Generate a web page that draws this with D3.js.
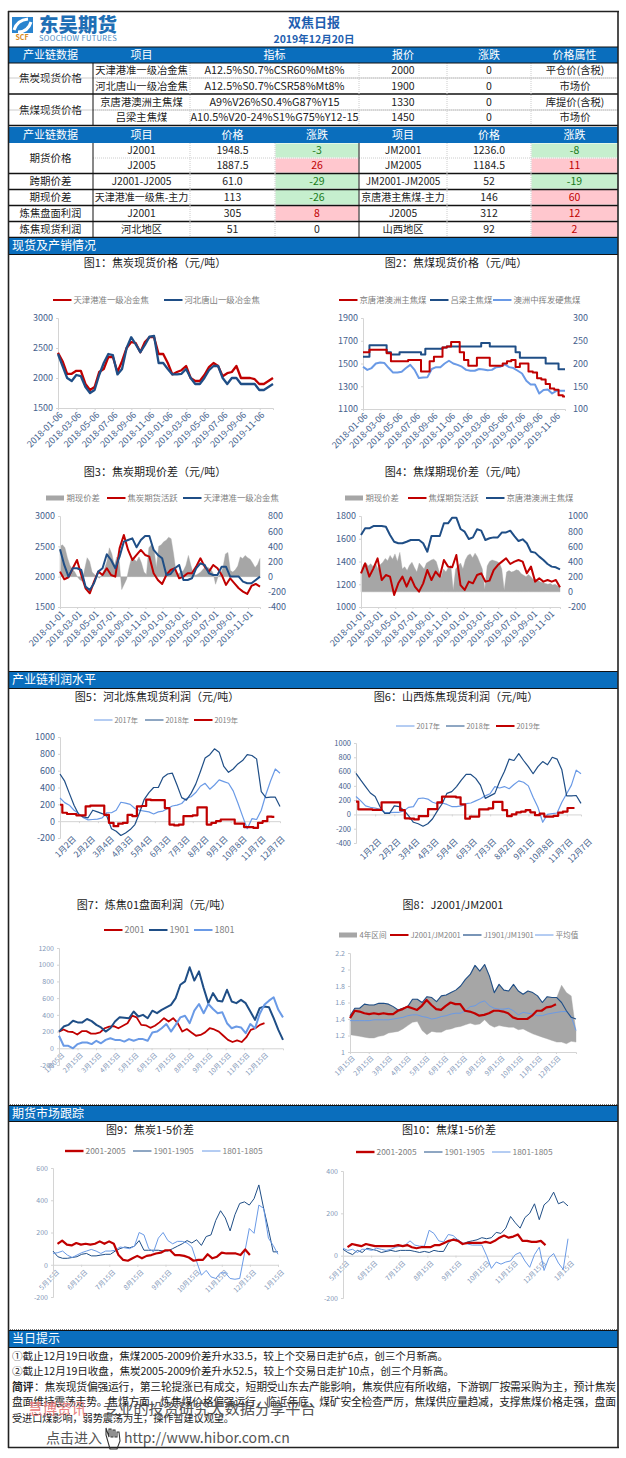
<!DOCTYPE html>
<html><head><meta charset="utf-8">
<script src="https://d3js.org/d3.v7.min.js"></script>
<style>html,body{margin:0;padding:0;background:#fff}svg{display:block}text{font-family:"Noto Sans CJK SC","Noto Sans",sans-serif}</style>
</head><body><div id="c"></div>
<script>
// ---------- table data ----------
const spotHead=["产业链数据","项目","指标","报价","涨跌","价格属性"];
const spotGroups=["焦炭现货价格","焦煤现货价格"];
const spotNames=["天津港准一级冶金焦","河北唐山一级冶金焦","京唐港澳洲主焦煤","吕梁主焦煤"];
const spotSpecs=["A12.5%S0.7%CSR60%Mt8%","A12.5%S0.7%CSR58%Mt8%","A9%V26%S0.4%G87%Y15","A10.5%V20-24%S1%G75%Y12-15"];
const spotPrices=[2000,1900,1330,1450];
const spotChanges=[0,0,0,0];
const spotAttrs=["平仓价(含税)","市场价","库提价(含税)","市场价"];
const futHead=["产业链数据","项目","价格","涨跌","项目","价格","涨跌"];
const futGroups=["期货价格","跨期价差","期现价差","炼焦盘面利润","炼焦现货利润"];
const futNamesL=["J2001","J2005","J2001-J2005","天津港准一级焦-主力","J2001","河北地区"];
const futPricesL=["1948.5","1887.5","61.0","113","305","51"];
const futChangesL=[-3,26,-29,-26,8,0];
const futNamesR=["JM2001","JM2005","JM2001-JM2005","京唐港主焦煤-主力","J2005","山西地区"];
const futPricesR=["1236.0","1184.5","52","146","312","92"];
const futChangesR=[-8,11,-19,60,12,2];
const commentLines=["①截止12月19日收盘，焦煤2005-2009价差升水33.5，较上个交易日走扩6点，创三个月新高。",
"②截止12月19日收盘，焦炭2005-2009价差升水52.5，较上个交易日走扩10点，创三个月新高。",
"：焦炭现货偏强运行，第三轮提涨已有成交，短期受山东去产能影响，焦炭供应有所收缩，下游钢厂按需采购为主，预计焦炭",
"盘面维持震荡走势。焦煤方面，炼焦煤价格偏强运行，临近年底，煤矿安全检查严厉，焦煤供应量趋减，支撑焦煤价格走强，盘面",
"受进口煤影响，弱势震荡为主，操作暂建议观望。"];
// ---------- tick labels ----------
const d06=["2018-01-06","2018-03-06","2018-05-06","2018-07-06","2018-09-06","2018-11-06","2019-01-06","2019-03-06","2019-05-06","2019-07-06","2019-09-06","2019-11-06"];
const d01=d06.map(s=>s.replace("-06","-01"));
const monthsA=["1月2日","2月2日","3月4日","4月3日","5月4日","6月3日","7月3日","8月2日","9月1日","10月8日","11月7日","12月7日"];
const months15=["1月15日","2月15日","3月15日","4月15日","5月15日","6月15日","7月15日","8月15日","9月15日","10月15日","11月15日","12月15日"];
const months7=["1月05日"].concat(months15.slice(1));
const months9=["5月15日","6月15日","7月15日","8月15日","9月15日","10月15日","11月15日","12月15日","1月15日"];
// ---------- series ----------
const cokeTianjin=[2420,2280,2070,2070,2120,2120,1900,1800,1850,2100,2150,2350,2350,2100,2280,2500,2600,2580,2430,2600,2680,2680,2400,2400,2250,2060,2100,2130,2200,2000,1950,1950,2050,2180,2250,2200,2030,2080,2100,2200,2000,2000,2000,1980,1900,1900,1950,2000];
const cokeHebei=[2400,2200,2000,1950,2050,2030,1850,1750,1800,2050,2250,2400,2380,2060,2150,2500,2680,2560,2430,2550,2690,2700,2250,2250,2150,2060,2060,2070,2150,2000,1900,1900,2000,2130,2200,2200,2000,1900,2000,2000,1900,1900,1900,1900,1800,1800,1850,1900];
const coalJingtang=[1600,1600,1620,1620,1620,1620,1590,1520,1520,1520,1520,1530,1530,1530,1430,1430,1520,1560,1560,1640,1650,1690,1690,1600,1530,1480,1480,1550,1550,1550,1480,1480,1480,1500,1520,1530,1470,1500,1500,1430,1420,1370,1360,1320,1280,1270,1220,1210];
const coalLvliang=[1560,1560,1660,1660,1660,1660,1600,1580,1580,1600,1600,1600,1600,1600,1580,1630,1630,1630,1630,1640,1650,1650,1650,1650,1650,1650,1650,1650,1680,1680,1650,1650,1650,1650,1650,1650,1600,1550,1550,1550,1550,1550,1550,1500,1500,1500,1450,1450];
const coalAus=[193,186,190,200,202,201,190,180,180,182,190,197,186,168,169,170,188,192,192,200,206,200,197,193,186,184,184,188,187,185,186,192,193,198,192,190,184,178,162,154,154,134,142,143,134,140,140,140];
const f3Future=[2083,1957,1990,2138,2275,2028,1809,1726,1918,2083,2028,2138,2028,2001,2467,2687,2440,2275,2358,2440,2358,2330,2056,1946,1880,2028,2110,2138,1973,2001,2056,2056,2165,2303,2165,2083,2193,2138,2028,1864,1973,1891,1809,1754,1715,1847,1880,1836];
const f3Spot=[2451,2193,2001,2138,2138,2110,1836,1781,1891,2083,2138,2369,2275,2138,2330,2577,2605,2632,2484,2605,2671,2671,2440,2358,2303,2028,2045,2138,2193,1946,1946,1973,2138,2220,2193,2056,2028,2028,2165,2165,2001,2001,2001,1918,1891,1891,1946,2001];
const f3Basis=[400,420,380,250,150,100,60,0,-40,-60,100,250,200,60,30,0,-20,30,100,200,380,300,150,260,200,-170,-100,-30,120,250,230,200,260,180,60,30,380,420,380,120,400,420,460,480,520,500,300,60,40,60,80,150,280,150,40,20,40,60,100,130,120,100,50,-100,0,40,120,300,320,80,60,90,140,260,240,280,250,230,180,120,160,240];
const f4Future=[1296,1384,1267,1340,1428,1237,1281,1267,1106,1208,1267,1179,1261,1179,1135,1208,1325,1237,1311,1267,1413,1355,1349,1457,1193,1150,1223,1208,1281,1296,1223,1232,1325,1369,1399,1428,1378,1399,1413,1399,1296,1355,1223,1252,1223,1237,1223,1237,1173];
const f4Spot=[1633,1692,1692,1712,1712,1712,1706,1633,1574,1560,1560,1574,1589,1589,1589,1560,1486,1624,1624,1624,1736,1736,1785,1785,1686,1662,1598,1612,1683,1671,1589,1604,1612,1612,1656,1656,1671,1624,1580,1595,1560,1486,1478,1443,1413,1378,1355,1349,1331];
const f4Basis=[250,360,380,340,370,330,380,300,360,390,440,410,480,430,500,400,520,300,330,280,350,390,320,260,380,340,300,380,400,420,430,400,290,200,300,260,320,350,20,300,340,380,300,420,480,500,450,510,460,380,300,30,340,400,420,410,400,380,300,20,260,280,260,270,290,280,240,220,200,230,200,160,170,150,130,120,110,100,110,90,100,80,70];
const hebei2017=[275,220,190,130,90,40,15,20,25,40,100,100,130,225,215,200,150,130,120,110,85,110,120,150,180,190,210,270,290,340,415,450,380,430,490,470,450,360,215,60,-90,30,20,130,320,480,620,570];
const hebei2018=[560,475,330,190,80,50,40,130,110,90,60,-90,-120,-170,-140,-100,-40,100,260,340,400,400,520,560,570,430,280,250,330,440,590,750,790,860,820,650,580,620,680,720,790,780,740,350,280,285,285,175];
const hebei2019=[195,100,85,85,70,70,175,185,185,185,75,-20,-60,-30,-20,75,60,175,180,255,250,250,250,155,-40,-50,-40,60,60,70,165,165,-40,-20,0,20,20,20,-30,-30,-70,-70,-80,-20,0,55,50];
const shanxi2017=[250,190,120,100,90,70,30,25,30,30,50,100,110,220,230,215,170,150,160,140,110,110,120,150,160,190,220,260,290,390,370,390,360,420,470,450,400,240,100,-110,0,10,20,170,290,410,620,570];
const shanxi2018=[575,480,390,300,250,110,15,15,120,110,60,-20,-110,-130,-165,-130,-60,50,150,295,320,390,480,560,560,505,410,225,260,295,460,600,775,755,850,755,670,570,670,740,695,800,775,625,260,260,265,155];
const shanxi2019=[180,70,70,70,65,65,170,170,170,170,60,-55,-60,-70,-25,-25,75,75,170,250,250,250,240,140,-60,-30,-30,70,70,85,175,175,60,-25,0,30,40,60,30,-10,10,-30,-30,-20,25,40,90,90];
const pan2001=[200,225,200,195,165,205,205,175,175,190,240,260,265,240,270,300,390,370,280,275,245,270,310,360,320,360,300,200,230,190,150,160,190,240,225,200,150,100,75,95,75,130,220,240,280,300];
const pan1901=[200,260,280,330,310,310,350,325,280,250,200,240,320,370,365,360,440,380,400,360,450,420,460,490,520,600,760,800,970,810,920,720,540,660,570,560,700,560,540,580,540,440,340,480,500,490,360,220,100];
const pan1801=[150,30,30,0,50,70,70,50,90,60,100,120,100,100,80,110,90,110,110,90,190,200,240,290,200,280,370,390,300,450,530,420,530,470,420,430,300,240,260,250,180,290,240,410,520,570,610,460,370];
const ratioUpper=[1.44,1.53,1.53,1.58,1.57,1.57,1.59,1.59,1.58,1.55,1.51,1.53,1.55,1.64,1.64,1.60,1.67,1.66,1.61,1.68,1.69,1.72,1.75,1.80,1.88,1.94,2.05,1.98,2.06,1.92,1.72,1.82,1.75,1.74,1.82,1.74,1.70,1.74,1.72,1.68,1.60,1.67,1.66,1.66,1.81,1.72,1.68,1.25];
const ratioLower=[1.21,1.20,1.19,1.18,1.17,1.17,1.19,1.20,1.23,1.24,1.25,1.28,1.32,1.36,1.37,1.26,1.21,1.25,1.24,1.24,1.27,1.28,1.30,1.31,1.33,1.35,1.33,1.34,1.39,1.33,1.30,1.32,1.31,1.30,1.30,1.27,1.28,1.25,1.22,1.20,1.18,1.16,1.14,1.12,1.12,1.10,1.13,1.12];
const ratio1901=[1.44,1.53,1.53,1.58,1.57,1.57,1.59,1.59,1.58,1.55,1.51,1.53,1.55,1.64,1.64,1.60,1.67,1.66,1.61,1.68,1.69,1.72,1.75,1.80,1.88,1.94,2.05,1.98,2.06,1.92,1.72,1.82,1.75,1.74,1.82,1.74,1.70,1.74,1.72,1.68,1.60,1.67,1.66,1.66,1.60,1.50,1.42,1.40];
const ratio2001=[1.41,1.50,1.49,1.47,1.46,1.47,1.46,1.47,1.46,1.46,1.50,1.52,1.55,1.53,1.51,1.56,1.63,1.57,1.52,1.51,1.56,1.60,1.58,1.58,1.50,1.49,1.47,1.44,1.45,1.47,1.50,1.50,1.49,1.47,1.42,1.40,1.40,1.40,1.44,1.50,1.50,1.54,1.55,1.58];
const ratioAvg=[1.38,1.38,1.38,1.38,1.38,1.39,1.39,1.39,1.39,1.40,1.41,1.42,1.44,1.45,1.45,1.43,1.42,1.40,1.41,1.43,1.44,1.46,1.47,1.47,1.50,1.55,1.56,1.60,1.62,1.56,1.53,1.52,1.52,1.53,1.50,1.45,1.48,1.47,1.46,1.44,1.44,1.46,1.47,1.48,1.49,1.49,1.43,1.26];
const j2001=[130,150,125,120,135,125,130,125,130,145,130,145,130,60,30,25,40,55,40,55,60,70,75,90,90,60,60,55,45,25,30,30,65,40,50,75,70,70,70,60,95,60];
const j1901=[85,50,40,40,45,50,65,70,55,55,60,65,65,85,100,110,105,115,150,90,90,90,90,85,85,100,115,130,150,135,155,120,175,185,275,335,290,210,310,380,390,370,410,495,350,220,80,80];
const j1801=[70,75,85,60,45,60,75,85,95,85,70,85,85,90,110,105,100,115,200,185,100,80,165,200,150,130,145,145,135,110,20,-65,-35,-75,-85,-50,-50,-85,-90,-85,70,225,195,370,350,165,120,65];
const jm2001=[40,55,50,45,55,50,45,45,45,45,45,50,45,50,40,35,40,40,40,50,50,60,70,75,70,55,60,60,60,60,65,60,70,85,95,85,90,100,70,70,65,65,70,50];
const jm1901=[30,15,5,25,15,35,30,25,15,20,25,20,25,25,25,20,15,20,15,25,20,20,60,80,75,55,65,70,75,85,80,85,110,105,130,185,155,130,180,200,245,170,240,260,300,245,255,235];
const jm1801=[35,25,30,15,30,30,25,35,30,25,30,40,45,50,70,50,45,45,120,105,70,65,100,95,75,60,55,50,50,50,0,-60,-30,-40,-30,-25,5,15,-25,-55,5,40,-70,-10,10,-35,-65,80];

// ---------- page ----------
const RED="#c00000",DK="#1f4e86",LT="#6a9ae6",GR="#a6a6a6",AX="#44618c",AX2="#8397b8",BLUE="#0a6ebd";
const svg=d3.select("#c").append("svg").attr("width",626).attr("height",1458);
function T(x,y,s,o={}){return svg.append("text").attr("x",x).attr("y",y).attr("dy","0.35em").text(s)
 .attr("font-size",o.size||10.5).attr("fill",o.fill||"#222").attr("text-anchor",o.anchor||"middle")
 .attr("font-weight",o.weight||null).attr("font-family",o.family||null);}
function R(x,y,w,h,f){return svg.append("rect").attr("x",x).attr("y",y).attr("width",w).attr("height",h).attr("fill",f);}
function L(x1,y1,x2,y2,c,w,dash){return svg.append("line").attr("x1",x1).attr("y1",y1).attr("x2",x2).attr("y2",y2).attr("stroke",c).attr("stroke-width",w).attr("stroke-dasharray",dash||null);}

// header / logo
R(12,17,21,16,"#2a84cf");
svg.append("path").attr("d","M14 30 Q17 20 28 19 M18 32 Q28 32 31 22").attr("fill","none").attr("stroke","#fff").attr("stroke-width",3);
T(22,38,"SCF",{size:7,fill:"#d98a1e",weight:700});
T(39,25,"东吴期货",{size:19.5,fill:"#1f6fb5",weight:900,anchor:"start"});
T(39,38.5,"SOOCHOW  FUTURES",{size:7.5,fill:"#4a8cc4",anchor:"start"}).attr("letter-spacing",.35);
T(314,22,"双焦日报",{size:13,fill:"#1f5fb0",weight:700});
T(314,39,"2019年12月20日",{size:10.5,fill:"#1f5fb0",weight:700});

// tables
const cols1=[8,93,190,359,447,531,618], cols2=[8,93,190,275,359,447,531,618];
const rows1=[63,78,94,110,125], rows2=[143,158,173,189,205,221,237];
function band(y,h,vals,cols){R(9,y,609,h,BLUE);vals.forEach((v,i)=>T((cols[i]+cols[i+1])/2,y+h/2,v,{fill:"#fff",size:11}));}
band(47,16,spotHead,cols1);
band(127,16,futHead,cols2);
spotNames.forEach((n,i)=>{const y=(rows1[i]+rows1[i+1])/2;
 T(141.5,y,n,{size:10.3});T(274.5,y,spotSpecs[i],{size:10.9}).attr("textLength",i==3?168:i==2?130:140).attr("lengthAdjust","spacingAndGlyphs");
 T(403,y,spotPrices[i]);T(489,y,spotChanges[i]);T(575,y,spotAttrs[i],{size:10.3});
 if(i%2==0)L(93,rows1[i+1],618,rows1[i+1],"#bbb",1,"1 1");});
T(50.5,78.5,spotGroups[0]);T(50.5,110,spotGroups[1]);
function chg(x,w,y,h,v){const f=v<0?"#c6efce":v>0?"#ffc7ce":null;if(f)R(x+.5,y+.5,w-1,h-1,f);
 T(x+w/2,y+h/2,v,{fill:v<0?"#187a18":v>0?"#c00000":"#222"});}
futNamesL.forEach((n,i)=>{const y=rows2[i],h=rows2[i+1]-y,m=y+h/2;
 T(141.5,m,n,{size:i==3?10:10.3});T(232.5,m,futPricesL[i]);chg(275,84,y,h,futChangesL[i]);
 T(403,m,futNamesR[i],{size:i==3?10:(i==2?10:10.3)});T(489,m,futPricesR[i]);chg(531,87,y,h,futChangesR[i]);});
T(50.5,158,futGroups[0]);[1,2,3,4].forEach(i=>T(50.5,(rows2[i+1]+rows2[i+2])/2,futGroups[i],{size:i>2?10.3:10.5}));
[[78,1],[94,1.5],[110,1],[125.5,1.5],[173.5,1.5],[189.5,1.5],[205.5,1.5],[221.5,1.5],[237.5,1.5]].forEach(([y,w])=>L(8,y,618,y,w>1?"#111":"#ccc",w));
L(93,158,618,158,"#ccc",1,"1 1");
L(93,63,93,125,"#111",1);L(93,143,93,237,"#111",1);L(359,143,359,237,"#111",1);
[190,359,447,531].forEach(x=>L(x,63,x,125,"#ccc",1,"1 1"));
[190,275,447,531].forEach(x=>L(x,143,x,237,"#ccc",1,"1 1"));

// section bands
[[238,16,"现货及产销情况"],[672,16,"产业链利润水平"],[1106,15,"期货市场跟踪"],[1331,16,"当日提示"]].forEach(([y,h,s])=>{
 R(9,y,609,h,BLUE);T(12,y+h/2,s,{fill:"#fff",size:12,anchor:"start"});
 L(8,y-.5,618,y-.5,"#111",1);L(8,y+h+.5,618,y+h+.5,"#111",1);});
L(8,1104.5,618,1104.5,"#777",1,"1 1");L(8,1329.5,618,1329.5,"#777",1,"1 1");

// charts
function chart(c){
 const x=d3.scaleLinear().domain([0,c.span]).range([c.x0,c.x1]);
 const yL=d3.scaleLinear().domain(c.left.domain).range([c.bot,c.top]);
 const yR=c.right?d3.scaleLinear().domain(c.right.domain).range([c.bot,c.top]):yL;
 const g=svg.append("g");
 const color=c.axisColor||AX, fs=c.tickSize||9, fam=c.tickFamily||null;
 const style=(a)=>{a.selectAll("path,line").attr("stroke",c.axisLine||"#d4d4d4");
   a.selectAll("text").attr("fill",color).attr("font-size",fs).attr("font-family",fam);};
 (c.series||[]).filter(s=>s.area).forEach(s=>{const n=s.area.length-1;
   const sx=i=>x(i/n*c.span);
   const a=d3.area().x((d,i)=>sx(i)).y1(d=>(s.axis=="R"?yR:yL)(d)).y0(s.base!=null?(s.axis=="R"?yR:yL)(s.base):0);
   if(s.lower){a.y0((d,i)=>yL(s.lower[i]));}
   g.append("path").datum(s.area).attr("d",a).attr("fill",GR).attr("stroke",GR).attr("stroke-width",.4);});
 const baseY=c.zero!=null?yL(c.zero):c.bot;
 const xa=d3.axisBottom(x).tickValues(c.labels.map((d,i)=>i*c.step)).tickFormat((d,i)=>c.labels[i]).tickSize(2).tickPadding(c.pad||4);
 const gx=g.append("g").attr("transform",`translate(0,${baseY})`).call(xa);
 style(gx);gx.selectAll("text").attr("text-anchor","end").attr("dx","-0.2em").attr("dy","0.3em").attr("transform","rotate(-45)")
   .attr("font-size",c.xSize||fs).attr("fill",c.xColor||color);
 const gl=g.append("g").attr("transform",`translate(${c.x0},0)`).call(d3.axisLeft(yL).tickValues(c.left.ticks).tickSize(2).tickPadding(3).tickFormat(d=>d));
 style(gl);
 if(c.right){const gr=g.append("g").attr("transform",`translate(${c.x1},0)`).call(d3.axisRight(yR).tickValues(c.right.ticks).tickSize(0).tickPadding(c.right.pad||8).tickFormat(d=>d));
   style(gr);gr.select("path").attr("stroke","none");}
 (c.series||[]).filter(s=>s.values).forEach(s=>{
   const scale=d3.scaleLinear().domain([0,s.values.length-1]).range([x(s.from||0),x(s.to==null?c.span:s.to)]);
   const y=s.axis=="R"?yR:yL;
   const ln=d3.line().x((d,i)=>scale(i)).y(d=>y(d)).curve(s.step?d3.curveStep:d3.curveLinear);
   g.append("path").datum(s.values).attr("d",ln).attr("fill","none").attr("stroke",s.color).attr("stroke-width",s.w||1.5).attr("stroke-linejoin","round");});
 T(c.tx,c.ty,c.title,{size:11,fill:"#222"});
 c.legend.forEach(l=>{
   if(l.bar)R(l.x,c.ly-2.5,18,5,GR);else L(l.x,c.ly,l.x+18.5,c.ly,l.color,l.w||2);
   T(l.x+20.5,c.ly,l.label,{size:c.legendSize||8.4,fill:"#808080",anchor:"start",family:c.legendFamily||null});});
}
const Lg=(x,label,color,w)=>({x,label,color,w});
chart({title:"图1：焦炭现货价格（元/吨）",tx:155,ty:263,x0:58,x1:273,top:318,bot:408,span:23.45,step:2,labels:d06,pad:4,
 left:{domain:[1500,3000],ticks:[1500,2000,2500,3000]},ly:300,
 series:[{values:cokeTianjin,color:RED,w:2.3},{values:cokeHebei,color:DK,w:2.3}],
 legend:[Lg(53,"天津港准一级冶金焦",RED,2),Lg(164,"河北唐山一级冶金焦",DK,2)]});
chart({title:"图2：焦煤现货价格（元/吨）",tx:456,ty:263,x0:363,x1:565,top:318,bot:409,span:23.1,step:2,labels:d06,
 left:{domain:[1100,1900],ticks:[1100,1300,1500,1700,1900]},right:{domain:[100,300],ticks:[100,150,200,250,300]},ly:300,
 series:[{values:coalAus,color:LT,w:2,axis:"R"},{values:coalLvliang,color:DK,w:2,step:1},{values:coalJingtang,color:RED,w:2,step:1}],
 legend:[Lg(339,"京唐港澳洲主焦煤",RED,2),Lg(430,"吕梁主焦煤",DK,2),Lg(493,"澳洲中挥发硬焦煤",LT,2)]});
chart({title:"图3：焦炭期现价差（元/吨）",tx:155,ty:472,x0:60,x1:260,top:516,bot:607,span:23.4,step:2,labels:d01,
 left:{domain:[1500,3000],ticks:[1500,2000,2500,3000]},right:{domain:[-400,800],ticks:[-400,-200,0,200,400,600,800]},ly:498,
 series:[{area:f3Basis,axis:"R",base:0},{values:f3Future,color:RED,w:2},{values:f3Spot,color:DK,w:2}],
 legend:[{x:46,label:"期现价差",bar:1},Lg(107,"焦炭期货活跃",RED,2),Lg(183,"天津港准一级冶金焦",DK,2)]});
chart({title:"图4：焦煤期现价差（元/吨）",tx:456,ty:472,x0:361,x1:560,top:516,bot:607,span:23.2,step:2,labels:d01,
 left:{domain:[1000,1800],ticks:[1000,1200,1400,1600,1800]},right:{domain:[-200,1000],ticks:[-200,0,200,400,600,800,1000]},ly:498,
 series:[{area:f4Basis,axis:"R",base:0},{values:f4Future,color:RED,w:2},{values:f4Spot,color:DK,w:2}],
 legend:[{x:345,label:"期现价差",bar:1},Lg(408,"焦煤期货活跃",RED,2),Lg(486,"京唐港澳洲主焦煤",DK,2)]});
chart({title:"图5：河北炼焦现货利润（元/吨）",tx:157,ty:697,x0:60,x1:280,top:737,bot:838,span:11.6,step:1,labels:monthsA,zero:0,pad:20,xSize:8.3,
 left:{domain:[-200,1000],ticks:[-200,0,200,400,600,800,1000]},ly:720,legendSize:7.3,legendFamily:"Liberation Serif",
 series:[{values:hebei2017,color:LT,w:1.2},{values:hebei2018,color:DK,w:1.2},{values:hebei2019,color:RED,w:2.2,step:1,to:11.3}],
 legend:[Lg(94,"2017年",LT,1),Lg(145,"2018年",DK,1),Lg(194,"2019年",RED,2)]});
chart({title:"图6：山西炼焦现货利润（元/吨）",tx:456,ty:697,x0:356,x1:581,top:743,bot:843,span:11.74,step:1,labels:monthsA,zero:0,pad:33,xSize:8.3,tickSize:7.5,tickFamily:"Liberation Serif",
 left:{domain:[-400,1000],ticks:[-400,-200,0,200,400,600,800,1000]},ly:726,legendSize:7.3,legendFamily:"Liberation Serif",
 series:[{values:shanxi2017,color:LT,w:1.2},{values:shanxi2018,color:DK,w:1.2},{values:shanxi2019,color:RED,w:2.2,step:1,to:11.4}],
 legend:[Lg(396,"2017年",LT,1),Lg(446,"2018年",DK,1),Lg(496,"2019年",RED,2)]});
chart({title:"图7：炼焦01盘面利润（元/吨）",tx:154,ty:905,x0:59,x1:283,top:948,bot:1065,span:12.1,step:1,labels:months7,zero:0,pad:5,tickSize:7,tickFamily:"Liberation Serif",axisColor:AX2,xSize:6.8,
 left:{domain:[-200,1200],ticks:[-200,0,200,400,600,800,1000,1200]},ly:930,legendSize:9,
 series:[{values:pan2001,color:RED,w:1.8,to:11.1},{values:pan1901,color:DK,w:2},{values:pan1801,color:LT,w:2}],
 legend:[Lg(104,"2001",RED,2),Lg(149,"1901",DK,2),Lg(194,"1801",LT,2)]});
chart({title:"图8：J2001/JM2001",tx:453,ty:905,x0:350,x1:576,top:953,bot:1052,span:12.07,step:1,labels:months15,tickSize:7,tickFamily:"Liberation Serif",axisColor:AX2,xSize:6.8,
 left:{domain:[1,2.2],ticks:[1,1.2,1.4,1.6,1.8,2,2.2]},ly:935,legendSize:7.6,
 series:[{area:ratioUpper,lower:ratioLower},{values:ratioAvg,color:LT,w:1},{values:ratio1901,color:DK,w:1.1},{values:ratio2001,color:RED,w:2.2,to:11}],
 legend:[{x:339,label:"4年区间",bar:1},Lg(390,"J2001/JM2001",RED,2),Lg(463,"J1901/JM1901",DK,1.2),Lg(535,"平均值",LT,1)]});
chart({title:"图9：焦炭1-5价差",tx:150,ty:1130,x0:53,x1:278,top:1168,bot:1297,span:8,step:1,labels:months9,zero:0,pad:6,tickSize:7,tickFamily:"Liberation Serif",axisColor:AX2,xSize:6.8,
 left:{domain:[-200,600],ticks:[-200,0,200,400,600]},ly:1151,legendSize:8.4,
 series:[{values:j1901,color:DK,w:1},{values:j1801,color:LT,w:1},{values:j2001,color:RED,w:2.2,from:0.16,to:7.0}],
 legend:[Lg(65,"2001-2005",RED,2.4),Lg(133,"1901-1905",DK,1),Lg(202,"1801-1805",LT,1)]});
chart({title:"图10：焦煤1-5价差",tx:449,ty:1130,x0:343,x1:568,top:1171,bot:1298,span:8,step:1,labels:months9,zero:0,pad:6,tickSize:7,tickFamily:"Liberation Serif",axisColor:AX2,xSize:6.8,
 left:{domain:[-200,400],ticks:[-200,0,200,400]},ly:1152,legendSize:8.4,
 series:[{values:jm1901,color:DK,w:1},{values:jm1801,color:LT,w:1},{values:jm2001,color:RED,w:2.2,from:0.16,to:7.2}],
 legend:[Lg(356,"2001-2005",RED,2.4),Lg(424,"1901-1905",DK,1),Lg(492,"1801-1805",LT,1)]});

// comment
const cy=[1356,1371,1387,1402,1418];
T(12,cy[0],commentLines[0],{anchor:"start",size:10.6}).attr("textLength",436).attr("lengthAdjust","spacing");
T(12,cy[1],commentLines[1],{anchor:"start",size:10.6}).attr("textLength",442).attr("lengthAdjust","spacing");
T(12,cy[2],"简评",{anchor:"start",size:10.8,weight:700});
T(34,cy[2],commentLines[2],{anchor:"start",size:10.8}).attr("textLength",582).attr("lengthAdjust","spacing");
T(12,cy[3],commentLines[3],{anchor:"start",size:10.8}).attr("textLength",604).attr("lengthAdjust","spacing");
T(12,cy[4],commentLines[4],{anchor:"start",size:10.2}).attr("textLength",222).attr("lengthAdjust","spacing");
// watermark
T(28,1409,"慧博资讯",{anchor:"start",size:14.5,fill:"#e88080"});
T(103,1409,"专业的投资研究大数据分享平台",{anchor:"start",size:15.2,fill:"#555"});
T(46,1438,"点击进入",{anchor:"start",size:14,fill:"#555"});
svg.append("path").attr("d","M106 1428 l3 9 v-8 h2 v8 h2 v-7 h2 v7 h2 v-5 h2 l1 9 l-3 8 h-7 l-4 -14 z").attr("fill","#fff").attr("stroke","#333").attr("stroke-width",1.1);
T(124,1438,"http://www.hibor.com.cn",{anchor:"start",size:14.1,fill:"#555",family:"Liberation Sans"});

// frame
L(8.5,11,8.5,1448,"#222",1.6);L(618,11,618,1448,"#222",1.6);
L(8,11.5,619,11.5,"#222",1.5);L(8,1447.5,619,1447.5,"#222",1.5);
L(8,47,618,47,"#111",1);L(8,63,618,63,"#111",1);
</script></body></html>
